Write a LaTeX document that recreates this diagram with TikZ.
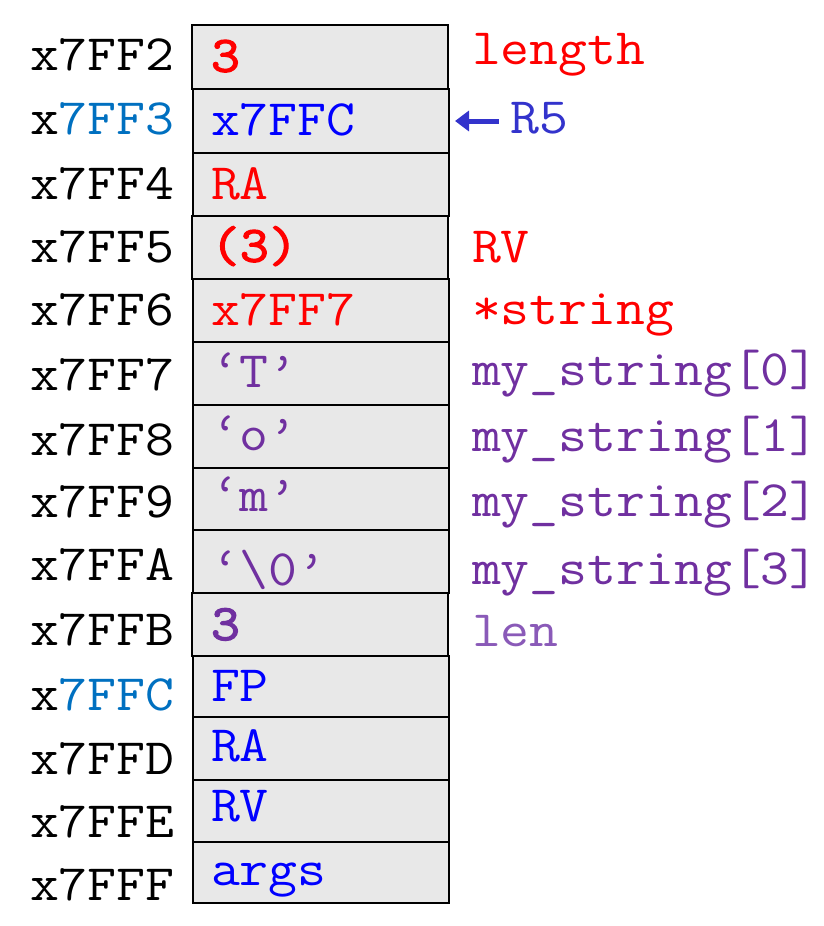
\documentclass[tikz,border=0pt]{standalone}
\usepackage{fontspec}
\setmainfont[FakeStretch=1.1]{Latin Modern Mono}
\newfontfamily\bmono[FakeStretch=1.1,FakeBold=2.5]{Latin Modern Mono}
\usetikzlibrary{arrows.meta}
\definecolor{cred}{HTML}{FF0000}
\definecolor{cblue}{HTML}{0000FF}
\definecolor{cpurple}{HTML}{7030A0}
\definecolor{cpurplelight}{HTML}{8A5AB8}
\definecolor{caddr}{HTML}{0070C0}
\definecolor{cr5}{HTML}{3333CC}
\definecolor{cfill}{HTML}{E8E8E8}
\begin{document}
\begin{tikzpicture}[x=1pt,y=-1pt,
  every node/.style={inner sep=0pt, outer sep=0pt, font=\fontsize{51}{60}\selectfont},
  txt/.style={anchor=base west},
  cell/.style={draw=black, line width=1.8pt, fill=cfill, anchor=north west, minimum width=256pt},
  ptr/.style={draw=cr5, line width=5pt, -{Triangle[length=14pt,width=20pt]}}
]
\useasboundingbox (0,0) rectangle (824,926);
% cells
\node[cell, minimum height=64pt] (c0) at (192,25) {};
\node[cell, minimum height=64pt] (c1) at (193,89) {};
\node[cell, minimum height=63pt] (c2) at (193,153) {};
\node[cell, minimum height=63pt] (c3) at (192,216) {};
\node[cell, minimum height=63pt] (c4) at (193,279) {};
\node[cell, minimum height=63pt] (c5) at (193,342) {};
\node[cell, minimum height=63pt] (c6) at (193,405) {};
\node[cell, minimum height=62pt] (c7) at (193,468) {};
\node[cell, minimum height=63pt] (c8) at (193,530) {};
\node[cell, minimum height=63pt] (c9) at (192,593) {};
\node[cell, minimum height=61pt] (c10) at (193,656) {};
\node[cell, minimum height=63pt] (c11) at (193,717) {};
\node[cell, minimum height=62pt] (c12) at (193,780) {};
\node[cell, minimum height=61pt] (c13) at (193,842) {};
% cell contents
\node[txt, text=cred] (v0) at (211,71.7) {\bmono 3};
\node[txt, text=cblue] (v1) at (211,135) {x7FFC};
\node[txt, text=cred] (v2) at (211,199) {RA};
\node[txt, text=cred] (v3) at (211,261.7) {\bmono (3)};
\node[txt, text=cred] (v4) at (211,325) {x7FF7};
\node[txt, text=cpurple] (v5) at (211,387) {‘T’};
\node[txt, text=cpurple] (v6) at (211,450) {‘o’};
\node[txt, text=cpurple] (v7) at (211,511.7) {‘m’};
\node[txt, text=cpurple] (v8) at (211,585) {‘\textbackslash0’};
\node[txt, text=cpurple] (v9) at (211,640) {\bmono 3};
\node[txt, text=cblue] (v10) at (211,701.7) {FP};
\node[txt, text=cblue] (v11) at (211,761.7) {RA};
\node[txt, text=cblue] (v12) at (211,821.7) {RV};
\node[txt, text=cblue] (v13) at (211,885) {args};
% addresses
\node[txt] (a0) at (30,70.7) {x7FF2};
\node[txt] (a1) at (30,134.3) {x\textcolor{caddr}{7FF3}};
\node[txt] (a2) at (30,199) {x7FF4};
\node[txt] (a3) at (30,262.3) {x7FF5};
\node[txt] (a4) at (30,325.7) {x7FF6};
\node[txt] (a5) at (30,390.7) {x7FF7};
\node[txt] (a6) at (30,455) {x7FF8};
\node[txt] (a7) at (30,517.3) {x7FF9};
\node[txt] (a8) at (30,580.7) {x7FFA};
\node[txt] (a9) at (30,645) {x7FFB};
\node[txt] (a10) at (30,710.7) {x\textcolor{caddr}{7FFC}};
\node[txt] (a11) at (30,774) {x7FFD};
\node[txt] (a12) at (30,837.3) {x7FFE};
\node[txt] (a13) at (30,900.7) {x7FFF};
% right labels
\node[txt, text=cred] (n0) at (472,64.3) {length};
\node[txt, text=cr5] (r5) at (510.5,133.3) {R5};
\node[txt, text=cred] (n3) at (472,262.3) {RV};
\node[txt, text=cred] (n4) at (472,324) {*string};
\node[txt, text=cpurple] (n5) at (472,385.7) {my\_string[0]};
\node[txt, text=cpurple] (n6) at (472,451) {my\_string[1]};
\node[txt, text=cpurple] (n7) at (472,516.7) {my\_string[2]};
\node[txt, text=cpurple] (n8) at (472,584.3) {my\_string[3]};
\node[txt, text=cpurplelight] (n9) at (472,646.7) {len};
% pointer arrow
\coordinate (r5w) at (r5.west |- c1.east);
\draw[ptr, shorten <=12pt, shorten >=6pt] (r5w) -- (c1.east);
\end{tikzpicture}
\end{document}
